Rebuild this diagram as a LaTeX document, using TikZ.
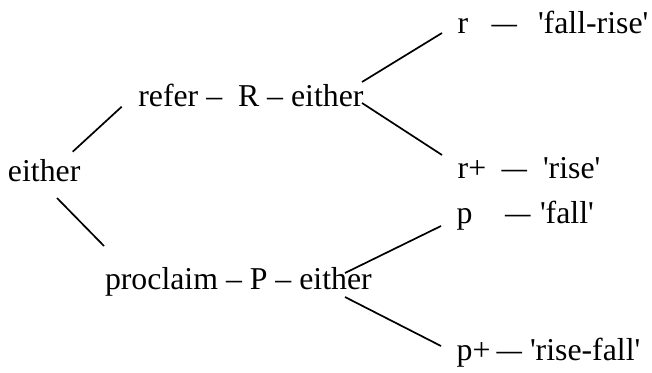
\documentclass[tikz,border=0pt]{standalone}
\usepackage{fontspec}
\setmainfont{Liberation Serif}[Ligatures=TeXOff]
\begin{document}
\begin{tikzpicture}[x=1pt,y=-1pt,
  lbl/.style={anchor=base west,inner sep=0pt,outer sep=0pt,font=\fontsize{31.8}{38}\selectfont},
  conn/.style={line width=1.7pt,black}]
\useasboundingbox (0,0) rectangle (652,372);
% left
\node[lbl] (root) at (8,181.7) {either};
\node[lbl] (refer) at (138.3,106.5) {refer –\ \ R – either};
\node[lbl] (procl) at (105,289) {proclaim – P – either};
% right top
\node[lbl] (r) at (457.7,33) {r};
\node[lbl] (rd) at (491.7,33) {\scalebox{0.8}[1]{—}};
\node[lbl] (rt) at (538,33) {'fall-rise'};
\node[lbl] (rp) at (457.7,178) {r+};
\node[lbl] (rpd) at (501.7,178) {\scalebox{0.8}[1]{—}};
\node[lbl] (rpt) at (543,178) {'rise'};
% right bottom
\node[lbl] (p) at (456.7,223) {p};
\node[lbl] (pd) at (505,223) {\scalebox{0.8}[1]{—}};
\node[lbl] (pt) at (540,223) {'fall'};
\node[lbl] (pp) at (456.7,360) {p+};
\node[lbl] (ppd) at (496.7,360) {\scalebox{0.8}[1]{—}};
\node[lbl] (ppt) at (530,360) {'rise-fall'};
% connector end points
\coordinate (a1) at (72.7,151.7);  \coordinate (a2) at (121.7,106.7);
\coordinate (b1) at (57,198);      \coordinate (b2) at (104,246);
\coordinate (c1) at (362,82);      \coordinate (c2) at (442,33);
\coordinate (d1) at (362,103);     \coordinate (d2) at (442,155);
\coordinate (e1) at (345,273);     \coordinate (e2) at (441,226);
\coordinate (f1) at (345,297);     \coordinate (f2) at (441,346);
\draw[conn] (a1) -- (a2);
\draw[conn] (b1) -- (b2);
\draw[conn] (c1) -- (c2);
\draw[conn] (d1) -- (d2);
\draw[conn] (e1) -- (e2);
\draw[conn] (f1) -- (f2);
\end{tikzpicture}
\end{document}
